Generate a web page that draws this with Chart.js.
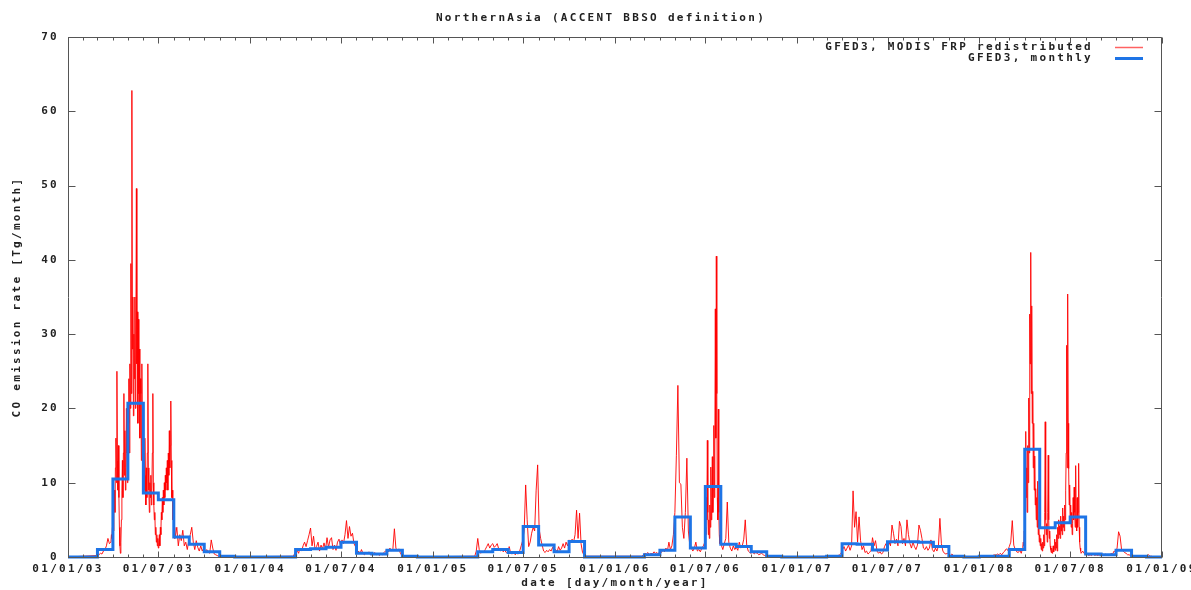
<!DOCTYPE html>
<html lang="en">
<head>
<meta charset="UTF-8">
<title>NorthernAsia CO emission</title>
<script src="https://cdn.jsdelivr.net/npm/chart.js"></script>
<style>
  html, body { margin: 0; padding: 0; background: #fff; }
  #wrap { width: 1191px; height: 590px; }
</style>
</head>
<body>
<div id="wrap"><canvas id="chart"></canvas></div>
<script>
// --- data ---------------------------------------------------------------
const chartTitle = 'NorthernAsia (ACCENT BBSO definition)';
const seriesNames = ['GFED3, MODIS FRP redistributed', 'GFED3, monthly'];
const xTitle = 'date [day/month/year]';
const yTitle = 'CO emission rate [Tg/month]';

const xTickDates = ['2003-01-01', '2003-07-01', '2004-01-01', '2004-07-01', '2005-01-01', '2005-07-01',
  '2006-01-01', '2006-07-01', '2007-01-01', '2007-07-01', '2008-01-01', '2008-07-01', '2009-01-01'];
const xTickLabels = ['01/01/03', '01/07/03', '01/01/04', '01/07/04', '01/01/05', '01/07/05',
  '01/01/06', '01/07/06', '01/01/07', '01/07/07', '01/01/08', '01/07/08', '01/01/09'];
const yTicks = [0, 10, 20, 30, 40, 50, 60, 70];

// GFED3 monthly, Jan 2003 .. Dec 2008
const monthly2003 = [0, 0, 1.0, 10.5, 20.7, 8.6, 7.7, 2.7, 1.7, 0.7, 0.1, 0];
const monthly2004 = [0, 0, 0, 1.0, 1.1, 1.3, 2.0, 0.5, 0.4, 0.9, 0.1, 0];
const monthly2005 = [0, 0, 0, 0.7, 1.0, 0.6, 4.1, 1.6, 0.7, 2.1, 0, 0];
const monthly2006 = [0, 0, 0.3, 0.9, 5.4, 1.2, 9.5, 1.7, 1.4, 0.7, 0.1, 0];
const monthly2007 = [0, 0, 0.1, 1.8, 1.7, 0.95, 2.05, 2.05, 2.0, 1.4, 0.1, 0];
const monthly2008 = [0.1, 0.1, 1.0, 14.5, 3.95, 4.6, 5.4, 0.4, 0.3, 0.9, 0.1, 0];

// MODIS FRP redistributed: pieces of fire season, each [first date, step in days, values]
const red2003a = ['2003-03-01', 3, [0.2, 0.3, 0.5, 0.4, 0.8, 1.0, 1.5, 2.5, 1.8]];
const red2003b = ['2003-03-28', 1, [2, 3, 2.5, 4, 5, 3.5, 7, 9, 6, 12,
  16, 10, 25, 13, 9, 15, 8, 4, 1.5, 0.5,
  2, 5, 9, 13, 8, 14, 22, 11, 17, 9,
  12, 20, 14, 10, 16, 18, 24, 14, 26, 20,
  39.5, 22, 62.8, 28, 35, 19, 30, 24, 35, 20,
  30, 49.6, 26, 33, 18, 32, 22, 28, 16, 24,
  22, 13, 26, 15, 18, 11, 14, 9, 16, 11,
  7, 12, 8, 14, 26, 12, 9, 6, 10, 8,
  11, 7, 9, 14, 22, 10, 7, 5, 6, 3,
  4, 2, 3, 1.5, 2.5, 1.2, 2, 3, 1.5, 4,
  3, 6, 5, 8, 6, 9, 7, 10, 8, 11,
  9, 12, 10, 13, 9, 14, 11, 17, 12, 15,
  21, 13, 8, 9, 5, 6, 3, 4, 2.5]];
const red2003c = ['2003-08-04', 3, [2.7, 4, 1.5, 3, 2.2, 3.6, 1.5, 2, 1, 2.2,
  3, 4, 2, 1, 2.2, 1.3, 0.8, 1.5, 0.8, 1.2,
  0.6, 1, 0.7, 0.5, 2.3, 1.2, 0.4, 0.3, 0.2, 0.1, 0]];
const red2004 = ['2004-03-26', 3, [0.1, 0.3, 0.6, 0.9, 0.5, 1.2, 0.8, 1.5, 2.0, 1.4,
  2.2, 3.0, 3.9, 1.5, 2.8, 1.0, 1.4, 2.0, 0.8, 1.6,
  1.1, 1.9, 1.0, 2.6, 1.3, 2.3, 2.6, 1.0, 1.6, 0.9,
  2.0, 2.4, 1.5, 2.3, 1.8, 3.0, 4.9, 2.5, 4.1, 2.8,
  3.2, 1.8, 1.4, 0.5, 0.8, 0.4, 1.0, 0.5, 0.3, 0.6,
  0.4, 0.7, 0.3, 0.5, 0.4, 0.6, 0.3, 0.4, 0.2, 0.5,
  0.3, 0.6, 0.8, 1.0, 0.7, 1.2, 0.8, 1.1, 3.8, 1.2,
  0.8, 1.1, 0.5, 0.2, 0.1, 0]];
const red2005 = ['2005-03-26', 3, [0.1, 0.8, 2.5, 1.0, 0.5, 0.7, 0.6, 1.0, 1.4, 1.8,
  1.2, 1.6, 1.8, 1.3, 1.5, 1.8, 1.1, 0.8, 1.0, 0.7,
  0.9, 0.6, 0.5, 1.4, 0.5, 0.4, 0.6, 0.3, 0.5, 0.4,
  0.8, 1.5, 2.2, 3.5, 9.7, 5.0, 1.4, 2.0, 3.2, 4.0,
  3.5, 9.0, 12.4, 3.8, 2.5, 1.6, 0.8, 0.6, 0.9, 0.7,
  1.0, 0.8, 1.3, 0.9, 1.0, 0.7, 1.4, 0.9, 1.2, 1.8,
  1.2, 2.0, 1.5, 2.3, 1.9, 2.4, 2.0, 3.0, 6.3, 2.5,
  5.9, 1.8, 0.6, 0.3, 0.1]];
const red2006a = ['2006-02-24', 3, [0.1, 0.3, 0.5, 0.4, 0.6, 0.3, 0.5, 0.4, 0.7, 0.5,
  0.6, 0.4, 0.8, 0.6, 1.0, 0.7, 1.2, 0.8, 2.0, 1.0,
  1.5, 3.0, 6.0, 13.7, 23.1, 10.0, 9.8, 4.0, 2.5, 6.0,
  13.3, 3.5, 1.5, 1.2, 0.8, 1.2, 2.0, 0.8, 1.0, 0.7,
  1.2, 1.5]];
const red2006b = ['2006-06-30', 1, [2, 4, 3, 8, 5, 15.7, 6, 3, 5, 2.5,
  7, 4, 12.1, 5, 8, 13.5, 6, 9, 17.7, 8,
  14, 33.4, 16, 40.5, 22, 8, 5, 19.9, 6, 3, 1.8]];
const red2006c = ['2006-08-02', 3, [1.6, 1.0, 1.8, 2.5, 7.4, 2.0, 1.2, 0.8, 1.5, 1.0,
  1.3, 0.9, 2.0, 1.2, 1.5, 2.4, 5.0, 1.5, 0.8, 0.6,
  0.5, 0.7, 0.4, 0.6, 0.5, 0.3, 0.4, 0.5, 0.3, 0.2, 0.1, 0]];
const red2007 = ['2007-03-21', 3, [0.1, 0.2, 0.3, 0.5, 1.0, 1.4, 0.8, 1.2, 1.6, 0.9,
  1.5, 8.9, 4.0, 6.1, 2.0, 5.4, 2.2, 1.0, 1.5, 0.6,
  0.8, 0.4, 0.6, 0.9, 2.6, 1.5, 2.2, 0.8, 0.5, 0.7,
  0.4, 0.6, 1.4, 1.8, 1.2, 2.0, 1.5, 4.3, 3.2, 1.8,
  2.4, 1.5, 4.8, 4.1, 1.8, 2.5, 1.5, 5.0, 3.0, 1.8,
  1.2, 2.0, 1.4, 1.0, 1.6, 4.3, 3.6, 2.5, 1.2, 1.0,
  1.4, 0.9, 1.2, 2.3, 1.0, 0.7, 1.2, 0.8, 1.5, 5.2,
  1.8, 0.8, 0.5, 0.4, 0.5, 0.3, 0.2, 0.4, 0.2, 0.1]];
const red2008a = ['2008-01-25', 3, [0, 0.2, 0.3, 0.2, 0.4, 0.3, 0.5, 0.3, 0.6, 0.8,
  1.1, 0.9, 1.4, 2.0, 4.9, 1.6, 1.0, 0.7, 0.6, 0.9, 0.5]];
const red2008b = ['2008-03-28', 1, [1.3, 2.0, 1.5, 3.5, 2.5, 6, 16.9, 8, 12, 6,
  15, 10, 21.4, 14, 32.7, 26, 41.0, 22, 33.8, 18,
  22.3, 12, 18, 9, 13.6, 7, 9.2, 5, 8, 4,
  10.2, 3, 5, 2, 3, 1.5, 2.5, 1, 1.8, 0.8,
  2, 1.2, 3, 1.5, 6, 18.2, 5, 3, 4.5, 2,
  6, 13.7, 5, 2.5, 3.5, 1.5, 1, 0.6, 1.2, 0.5,
  0.8, 1.5, 0.7, 1.2, 2.4, 0.9, 2, 1.2, 3, 0.8,
  4, 2.5, 5, 3, 4.2, 2.5, 5.5, 3.5, 4.8, 3,
  6.6, 4, 5.5, 3.5, 7, 5, 9, 14, 28.5, 12,
  35.4, 18, 11.9, 7, 9.7, 5, 7, 4, 6, 3,
  4.5, 8, 5, 9.4, 6, 4, 12.3, 5, 3.5, 8,
  4, 6, 12.6, 4, 2, 1.2, 0.8, 0.5]];
const red2008c = ['2008-07-26', 3, [0.8, 0.5, 0.3, 0.4, 0.2, 0.3, 0.2, 0.4, 0.2, 0.3,
  0.2, 0.3, 0.2, 0.3, 0.2, 0.4, 0.3, 0.2, 0.3, 0.5,
  0.4, 0.8, 0.7, 1.2, 3.4, 2.8, 1.0, 0.8, 0.6, 0.5,
  0.3, 0.3, 0.2, 0.1, 0.1, 0.1, 0.1, 0, 0.1, 0.2,
  0.1, 0, 0.1, 0.1, 0.3, 0.1, 0.1, 0, 0, 0]];

// --- helpers --------------------------------------------------------------
const DAY = 86400000;
const origin = Date.UTC(2003, 0, 1);
function dayOf(iso) {
  const [y, m, d] = iso.split('-').map(Number);
  return Math.round((Date.UTC(y, m - 1, d) - origin) / DAY);
}
const xTickDays = xTickDates.map(dayOf);
const xMax = xTickDays[xTickDays.length - 1];

// monthly step points (value holds through the month)
const monthlyAll = [].concat(monthly2003, monthly2004, monthly2005, monthly2006, monthly2007, monthly2008);
const monthStarts = monthlyAll.map((v, i) => Math.round((Date.UTC(2003, i, 1) - origin) / DAY));
const bluePts = monthlyAll.map((v, i) => ({ x: monthStarts[i], y: v }));
bluePts.push({ x: xMax, y: monthlyAll[monthlyAll.length - 1] });

const redPieces = [red2003a, red2003b, red2003c, red2004, red2005,
  red2006a, red2006b, red2006c, red2007, red2008a, red2008b, red2008c];
const redPts = [{ x: 0, y: 0 }];
redPieces.forEach(([start, step, vals]) => {
  const d0 = dayOf(start);
  vals.forEach((v, i) => redPts.push({ x: d0 + i * step, y: v }));
});
redPts.push({ x: xMax, y: 0 });

// --- styles -----------------------------------------------------------------
const textColor = '#222';
const fontFamily = "'DejaVu Sans Mono', monospace";
const baseFont = { family: fontFamily, size: 11, weight: 'bold', lineHeight: 1.2 };
const redColor = 'rgba(255, 0, 0, 0.9)';
const blueColor = '#1e74e6';
const frameColor = '#555';

// gnuplot-like frame with inward ticks, title and key
const gnuFrame = {
  id: 'gnuFrame',
  beforeDraw(chart) {
    chart.ctx.letterSpacing = '2.3px';
  },
  afterDatasetsDraw(chart) {
    const { ctx, chartArea: a, scales: { x, y } } = chart;
    const L = Math.round(a.left) + 0.5, R = Math.round(a.right) - 0.5;
    const T = Math.round(a.top) + 0.5, B = Math.round(a.bottom) + 0.5;
    ctx.save();
    ctx.strokeStyle = frameColor;
    ctx.lineWidth = 1;
    ctx.beginPath();
    ctx.rect(L, T, R - L, B - T);
    monthStarts.forEach(d => {
      const px = Math.round(x.getPixelForValue(d)) + 0.5;
      ctx.moveTo(px, B); ctx.lineTo(px, B - 3);
      ctx.moveTo(px, T); ctx.lineTo(px, T + 3);
    });
    xTickDays.forEach(d => {
      const px = Math.round(x.getPixelForValue(d)) + 0.5;
      ctx.moveTo(px, B); ctx.lineTo(px, B - 6);
      ctx.moveTo(px, T); ctx.lineTo(px, T + 6);
    });
    yTicks.forEach(v => {
      const py = Math.round(y.getPixelForValue(v)) + 0.5;
      ctx.moveTo(L, py); ctx.lineTo(L + 7, py);
      ctx.moveTo(R, py); ctx.lineTo(R - 7, py);
    });
    ctx.stroke();
    ctx.restore();
  },
  afterDraw(chart) {
    const ctx = chart.ctx;
    ctx.save();
    ctx.font = 'bold 11px ' + fontFamily;
    ctx.letterSpacing = '2.3px';
    ctx.fillStyle = textColor;
    ctx.textBaseline = 'middle';
    ctx.textAlign = 'center';
    ctx.fillText(chartTitle, 601, 18);
    ctx.textAlign = 'right';
    const rows = [[seriesNames[0], 'rgba(255, 70, 70, 0.85)', 1.5, 47], [seriesNames[1], blueColor, 3, 58]];
    rows.forEach(([label, color, w, yy]) => {
      ctx.fillStyle = textColor;
      ctx.fillText(label, 1093, yy);
      ctx.strokeStyle = color;
      ctx.lineWidth = w;
      ctx.beginPath();
      ctx.moveTo(1115, yy + 0.5);
      ctx.lineTo(1143, yy + 0.5);
      ctx.stroke();
    });
    ctx.restore();
  }
};

new Chart(document.getElementById('chart'), {
  type: 'line',
  data: {
    datasets: [
      {
        label: seriesNames[0],
        data: redPts,
        borderColor: redColor,
        borderWidth: 1,
        pointRadius: 0,
        tension: 0,
        order: 1,
        clip: 3
      },
      {
        label: seriesNames[1],
        data: bluePts,
        borderColor: blueColor,
        borderWidth: 3,
        pointRadius: 0,
        stepped: 'before',
        order: 0,
        clip: 3
      }
    ]
  },
  options: {
    responsive: true,
    maintainAspectRatio: false,
    animation: false,
    events: [],
    layout: { padding: { left: 0, right: 29, top: 37, bottom: 0 } },
    plugins: {
      legend: { display: false },
      tooltip: { enabled: false },
      title: { display: false }
    },
    scales: {
      x: {
        type: 'linear',
        min: 0,
        max: xMax,
        afterBuildTicks: s => { s.ticks = xTickDays.map(v => ({ value: v })); },
        afterFit: s => { s.height = 33; s.paddingLeft = 0; s.paddingRight = 0; },
        grid: { display: false, drawTicks: false },
        border: { display: false },
        ticks: {
          autoSkip: false,
          maxRotation: 0,
          padding: 6,
          color: textColor,
          font: baseFont,
          callback: (v, i) => xTickLabels[i]
        },
        title: { display: true, text: xTitle, color: textColor, font: baseFont, padding: 0 }
      },
      y: {
        min: 0,
        max: 70,
        afterBuildTicks: s => { s.ticks = yTicks.map(v => ({ value: v })); },
        afterFit: s => { s.width = 68; s.paddingTop = 0; },
        grid: { display: false, drawTicks: false },
        border: { display: false },
        ticks: { padding: 9, color: textColor, font: baseFont },
        title: { display: true, text: yTitle, color: textColor, font: baseFont, padding: { top: 11, bottom: 0 } }
      }
    }
  },
  plugins: [gnuFrame]
});
</script>
</body>
</html>
